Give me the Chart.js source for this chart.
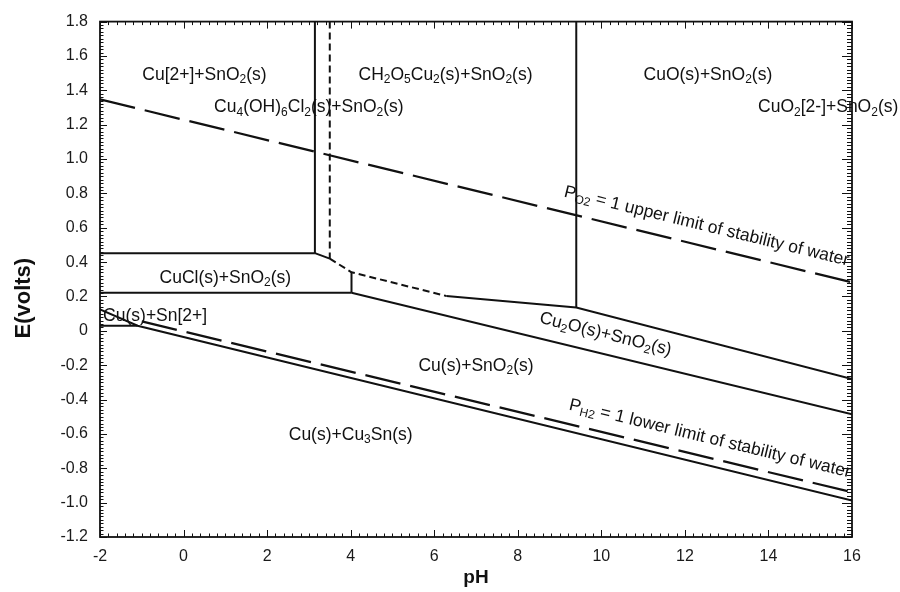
<!DOCTYPE html>
<html><head><meta charset="utf-8">
<script src="https://cdn.jsdelivr.net/npm/chart.js@4/dist/chart.umd.min.js"></script>
<style>html,body{margin:0;padding:0;background:#fff;}canvas{display:block;}</style>
</head><body>
<canvas id="c" width="900" height="592"></canvas>
<script>
// ---------- data ----------
const xTicks = [-2, 0, 2, 4, 6, 8, 10, 12, 14, 16];
const xTickLabels = ['-2', '0', '2', '4', '6', '8', '10', '12', '14', '16'];
const yTicks = [-1.2, -1.0, -0.8, -0.6, -0.4, -0.2, 0, 0.2, 0.4, 0.6, 0.8, 1.0, 1.2, 1.4, 1.6, 1.8];
const yTickLabels = ['-1.2', '-1.0', '-0.8', '-0.6', '-0.4', '-0.2', '0', '0.2', '0.4', '0.6', '0.8', '1.0', '1.2', '1.4', '1.6', '1.8'];

// water stability limits
const o2LimitPH = [-2, 16];
const o2LimitE = [1.347, 0.282];
const h2LimitPH = [-1.0, 16];
const h2LimitE = [0.055, -0.939];

// phase boundaries (solid)
const cu2BottomPH = [-2, 3.144];
const cu2BottomE = [0.452, 0.452];
const cu4LeftPH = [3.144, 3.144];
const cu4LeftE = [1.8, 0.452];
const cu4BottomPH = [3.144, 3.50];
const cu4BottomE = [0.452, 0.42];
const cuoBottomPH = [6.29, 9.40, 16];
const cuoBottomE = [0.203, 0.136, -0.28];
const cuoLeftPH = [9.40, 9.40];
const cuoLeftE = [1.8, 0.136];
const cuclRightPH = [4.02, 4.02];
const cuclRightE = [0.341, 0.222];
const cuclBottomPH = [-2, 4.02];
const cuclBottomE = [0.222, 0.222];
const cu2oBottomPH = [4.02, 16];
const cu2oBottomE = [0.222, -0.485];
const snBoxPH = [-2, -1.1];
const snBoxE = [0.03, 0.03];
const cu3snTopPH = [-2, -1.1, 16];
const cu3snTopE = [0.125, 0.03, -0.987];

// phase boundaries (dashed)
const ch2LeftPH = [3.50, 3.50];
const ch2LeftE = [1.8, 0.42];
const ch2BottomPH = [3.50, 4.02, 6.29];
const ch2BottomE = [0.42, 0.341, 0.203];

// region / line labels
const labelTexts = [
  'Cu[2+]+SnO_{2}(s)',
  'Cu_{4}(OH)_{6}Cl_{2}(s)+SnO_{2}(s)',
  'CH_{2}O_{5}Cu_{2}(s)+SnO_{2}(s)',
  'CuO(s)+SnO_{2}(s)',
  'CuO_{2}[2-]+SnO_{2}(s)',
  'CuCl(s)+SnO_{2}(s)',
  'Cu(s)+Sn[2+]',
  'Cu_{2}O(s)+SnO_{2}(s)',
  'Cu(s)+SnO_{2}(s)',
  'Cu(s)+Cu_{3}Sn(s)',
  'P_{O2} = 1 upper limit of stability of water',
  'P_{H2} = 1 lower limit of stability of water'
];
const labelPH = [0.5, 3.0, 6.27, 12.55, 15.43, 1.0, -0.68, 10.1, 7.0, 4.0, 12.52, 12.6];
const labelE = [1.49, 1.30, 1.49, 1.49, 1.30, 0.309, 0.088, -0.02, -0.204, -0.607, 0.608, -0.628];
const labelAngle = [0, 0, 0, 0, 0, 0, 0, 14, 0, 0, 13.7, 13.6];

// ---------- build ----------
function pts(xs, ys) { return xs.map((x, i) => ({x: x, y: ys[i]})); }
const SOLID = [];
const SHORTDASH = [7, 4];
const LONGDASH = [36, 10];
function ds(xs, ys, dash, w) {
  return {data: pts(xs, ys), borderColor: '#111', borderWidth: w, borderDash: dash,
          pointRadius: 0, fill: false, tension: 0, showLine: true};
}
const datasets = [
  ds(o2LimitPH, o2LimitE, LONGDASH, 2.2),
  ds(h2LimitPH, h2LimitE, LONGDASH, 2.2),
  ds(cu2BottomPH, cu2BottomE, SOLID, 2),
  ds(cu4LeftPH, cu4LeftE, SOLID, 2),
  ds(cu4BottomPH, cu4BottomE, SOLID, 2),
  ds(cuoBottomPH, cuoBottomE, SOLID, 2),
  ds(cuoLeftPH, cuoLeftE, SOLID, 2),
  ds(cuclRightPH, cuclRightE, SOLID, 2),
  ds(cuclBottomPH, cuclBottomE, SOLID, 2),
  ds(cu2oBottomPH, cu2oBottomE, SOLID, 2),
  ds(snBoxPH, snBoxE, SOLID, 2),
  ds(cu3snTopPH, cu3snTopE, SOLID, 2),
  ds(ch2LeftPH, ch2LeftE, SHORTDASH, 2),
  ds(ch2BottomPH, ch2BottomE, SHORTDASH, 2)
];

const FONT = "'Liberation Sans', Arial, Helvetica, sans-serif";

function parseRich(s) {
  const out = []; const re = /_\{([^}]*)\}/g; let last = 0, m;
  while ((m = re.exec(s))) {
    if (m.index > last) out.push({t: s.slice(last, m.index), sub: false});
    out.push({t: m[1], sub: true});
    last = re.lastIndex;
  }
  if (last < s.length) out.push({t: s.slice(last), sub: false});
  return out;
}

const decorPlugin = {
  id: 'decor',
  afterDraw(chart) {
    const ctx = chart.ctx, a = chart.chartArea;
    const xs = chart.scales.x, ys = chart.scales.y;
    ctx.save();
    ctx.strokeStyle = '#111';
    // frame
    ctx.lineWidth = 1.8;
    ctx.strokeRect(a.left, a.top, a.right - a.left, a.bottom - a.top);
    // ticks
    ctx.lineWidth = 1;
    ctx.beginPath();
    for (let i = 0; i <= 90; i++) {
      const v = xs.min + i * 0.2;
      const p = Math.round(xs.getPixelForValue(v)) + 0.5;
      const L = (i % 10 === 0) ? 7 : 3.5;
      ctx.moveTo(p, a.bottom); ctx.lineTo(p, a.bottom - L);
      ctx.moveTo(p, a.top); ctx.lineTo(p, a.top + L);
    }
    for (let i = 0; i <= 150; i++) {
      const v = ys.min + i * 0.02;
      const p = Math.round(ys.getPixelForValue(v)) + 0.5;
      const major = (i % 10 === 0);
      ctx.moveTo(a.left, p); ctx.lineTo(a.left + (major ? 7 : 3.5), p);
      ctx.moveTo(a.right, p); ctx.lineTo(a.right - (major ? 10 : 5), p);
    }
    ctx.stroke();

    // labels
    ctx.fillStyle = '#111';
    const MAIN = '17.5px ', SUB = '12px ';
    labelTexts.forEach((txt, k) => {
      const px = xs.getPixelForValue(labelPH[k]);
      const py = ys.getPixelForValue(labelE[k]);
      const segs = parseRich(txt);
      let w = 0;
      segs.forEach(sg => {
        ctx.font = (sg.sub ? SUB : MAIN) + FONT;
        sg.w = ctx.measureText(sg.t).width; w += sg.w;
      });
      ctx.save();
      ctx.translate(px, py);
      ctx.rotate(labelAngle[k] * Math.PI / 180);
      ctx.textAlign = 'left'; ctx.textBaseline = 'middle';
      let x = -w / 2;
      segs.forEach(sg => {
        ctx.font = (sg.sub ? SUB : MAIN) + FONT;
        ctx.fillText(sg.t, x, sg.sub ? 5 : 0);
        x += sg.w;
      });
      ctx.restore();
    });

    // axis titles
    ctx.font = 'bold 22px ' + FONT;
    ctx.textAlign = 'center'; ctx.textBaseline = 'middle';
    ctx.save();
    ctx.translate(24, ys.getPixelForValue(0.19));
    ctx.rotate(-Math.PI / 2);
    ctx.fillText('E(volts)', 0, 0);
    ctx.restore();
    ctx.font = 'bold 19px ' + FONT;
    ctx.fillText('pH', (a.left + a.right) / 2, 578);
    ctx.restore();
  }
};

new Chart(document.getElementById('c'), {
  type: 'line',
  data: {datasets: datasets},
  plugins: [decorPlugin],
  options: {
    responsive: false,
    animation: false,
    devicePixelRatio: 1,
    events: [],
    layout: {padding: {top: 16, right: 48, left: 0, bottom: 0}},
    plugins: {legend: {display: false}, tooltip: {enabled: false}},
    scales: {
      x: {
        type: 'linear', position: 'bottom', min: -2, max: 16,
        grid: {display: false, drawTicks: false},
        border: {display: false},
        afterBuildTicks: s => { s.ticks = xTicks.map(v => ({value: v})); },
        afterFit: s => { s.height = 55; },
        ticks: {
          padding: 10, color: '#1a1a1a', maxRotation: 0, autoSkip: false,
          font: {family: FONT, size: 16},
          callback: (v, i) => xTickLabels[i]
        }
      },
      y: {
        type: 'linear', position: 'left', min: -1.2, max: 1.8,
        grid: {display: false, drawTicks: false},
        border: {display: false},
        afterBuildTicks: s => { s.ticks = yTicks.map(v => ({value: v})); },
        afterFit: s => { s.width = 100; },
        ticks: {
          padding: 12, color: '#1a1a1a', autoSkip: false,
          font: {family: FONT, size: 16},
          callback: (v, i) => yTickLabels[i]
        }
      }
    }
  }
});
</script>
</body></html>
